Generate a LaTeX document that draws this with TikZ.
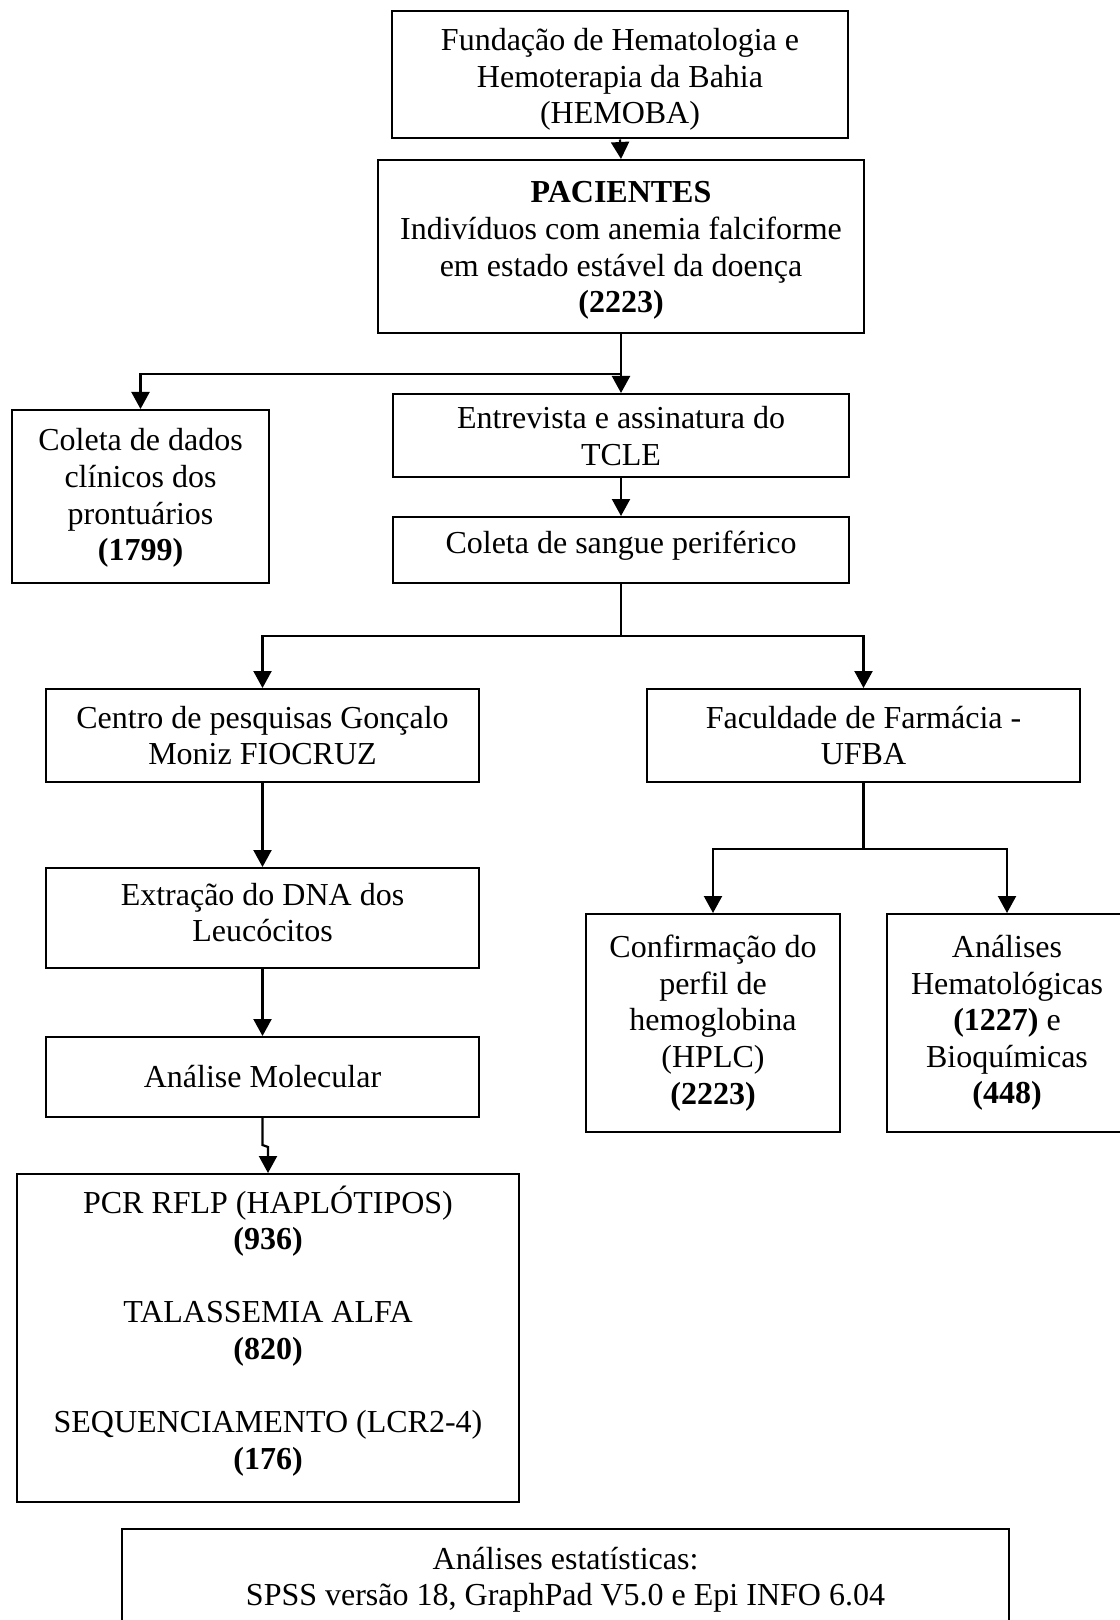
\documentclass[tikz,border=0pt]{standalone}
\usepackage{fontspec}
\setmainfont{Liberation Serif}
\usetikzlibrary{arrows.meta}
\newcommand{\shtxt}[2]{\raisebox{#1}[\height][\depth]{\begin{tabular}{@{}c@{}}#2\end{tabular}}}
\begin{document}
\begin{tikzpicture}[x=0.5pt,y=-0.5pt,
  box/.style={draw=black, line width=1pt, inner sep=0pt, align=center, anchor=center,
    font=\fontsize{16}{18.3}\selectfont},
  arr/.style={draw=black, line width=1.1pt, -{Triangle[width=9pt,length=8.5pt]}},
  ln/.style={draw=black, line width=1.1pt}]
\useasboundingbox (0,0) rectangle (1119,1620);

\node[box, minimum width=228pt, minimum height=63.5pt] (hemoba) at (620,75) {\shtxt{-2.5pt}{Fundação de Hematologia e\\ Hemoterapia da Bahia\\ (HEMOBA)}};
\node[box, minimum width=243pt, minimum height=86.5pt] (pac) at (621,246.5) {\shtxt{-2pt}{\textbf{PACIENTES}\\ Indivíduos com anemia falciforme\\ em estado estável da doença\\ \textbf{(2223)}}};
\node[box, minimum width=128.5pt, minimum height=86.5pt] (coleta) at (140.5,496.5) {\shtxt{-1pt}{Coleta de dados\\ clínicos dos\\ prontuários\\ \textbf{(1799)}}};
\node[box, minimum width=228pt, minimum height=41.5pt] (entre) at (621,435.5) {\shtxt{-2pt}{Entrevista e assinatura do\\ TCLE}};
\node[box, minimum width=228pt, minimum height=33pt] (sangue) at (621,550) {\shtxt{2pt}{Coleta de sangue periférico}};
\node[box, minimum width=216.5pt, minimum height=46.5pt] (centro) at (262.5,735.5) {Centro de pesquisas Gonçalo\\ Moniz FIOCRUZ};
\node[box, minimum width=216.5pt, minimum height=46.5pt] (fac) at (863.5,735.5) {Faculdade de Farmácia -\\ UFBA};
\node[box, minimum width=216.5pt, minimum height=50pt] (extr) at (262.5,918) {\shtxt{1pt}{Extração do DNA dos\\ Leucócitos}};
\node[box, minimum width=216.5pt, minimum height=40pt] (mol) at (262.5,1077) {Análise Molecular};
\node[box, minimum width=251pt, minimum height=164pt] (pcr) at (268,1338) {\shtxt{2.5pt}{PCR RFLP (HAPLÓTIPOS)\\ \textbf{(936)}\\[18.3pt] TALASSEMIA ALFA\\ \textbf{(820)}\\[18.3pt] SEQUENCIAMENTO (LCR2-4)\\ \textbf{(176)}}};
\node[box, minimum width=127pt, minimum height=109pt] (conf) at (713,1023) {Confirmação do\\ perfil de\\ hemoglobina\\ (HPLC)\\ \textbf{(2223)}};
\node[box, minimum width=120pt, minimum height=109pt] (anal) at (1007,1023) {Análises\\ Hematológicas\\ \textbf{(1227)} e\\ Bioquímicas\\ \textbf{(448)}};
\node[box, minimum width=443.5pt, minimum height=47pt] (estat) at (565.5,1576) {\shtxt{-2pt}{Análises estatísticas:\\ SPSS versão 18, GraphPad V5.0 e Epi INFO 6.04}};

\coordinate (j1) at (621,374);
\coordinate (j2) at (621,636);
\coordinate (j3) at (863.5,849);
\coordinate (k1) at (262.5,1145);
\coordinate (k2) at (268,1147);

\draw[arr] (hemoba.south) -- (pac.north);
\draw[ln] (pac.south) -- (j1);
\draw[arr] (j1) -- (entre.north);
\draw[arr] (j1) -| (coleta.north);
\draw[arr] (entre.south) -- (sangue.north);
\draw[ln] (sangue.south) -- (j2);
\draw[arr] (j2) -| (centro.north);
\draw[arr] (j2) -| (fac.north);
\draw[arr] (centro.south) -- (extr.north);
\draw[arr] (extr.south) -- (mol.north);
\draw[arr] (mol.south) -- (k1) -- (k2) -- (pcr.north);
\draw[ln] (fac.south) -- (j3);
\draw[arr] (j3) -| (conf.north);
\draw[arr] (j3) -| (anal.north);
\end{tikzpicture}
\end{document}
